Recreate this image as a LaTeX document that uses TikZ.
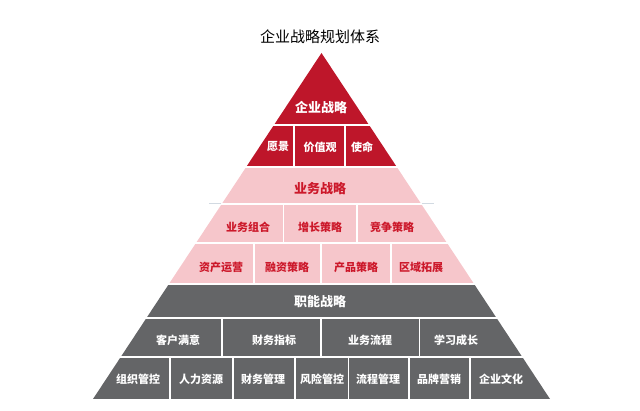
\documentclass[tikz,border=0pt]{standalone}
\usepackage{xcolor}
\usepackage{fontspec}
\setmainfont{Noto Sans CJK SC}
\usepackage{tikz}
\definecolor{stratred}{RGB}{190,22,42}
\definecolor{stratpink}{RGB}{246,198,203}
\definecolor{stratgray}{RGB}{100,101,103}
\definecolor{pinktext}{RGB}{204,24,42}
\definecolor{faintline}{RGB}{210,218,226}
\newcommand{\sepcolor}{white}

\begin{document}
\begin{tikzpicture}[x=1pt, y=-1pt,
	sep/.style={draw=\sepcolor, line width=1.6pt},
	headlabel/.style={font=\bfseries\fontsize{13}{13}\selectfont},
	celllabel/.style={font=\bfseries\fontsize{11}{11}\selectfont}]
	\useasboundingbox (0,0) rectangle (640,411);

	\node (title) at (320,37) {\fontsize{15}{15}\selectfont 企业战略规划体系};

	% the three colour bands
	\fill[stratred] (321.5,53) -- (396.8,167) -- (246.2,167) -- cycle;
	\fill[stratpink] (246.2,167) -- (396.8,167) -- (474.1,284) -- (168.9,284) -- cycle;
	\fill[stratgray] (168.9,284) -- (474.1,284) -- (550,399) -- (93,399) -- cycle;

	% faint guide line under the business strategy head
	\draw[faintline, line width=1pt] (209,204) -- (434,204);

	% row separators
	\foreach \y in {125,167,204,243,284,318,357}
		\draw[sep] (80,\y) -- (560,\y);
	\fill[faintline] (209,203.5) rectangle (221,204.5);
	\fill[faintline] (422,203.5) rectangle (434,204.5);

	% cell separators
	\foreach \x in {294,345}
		\draw[sep] (\x,125) -- (\x,167);
	\foreach \x in {283.3,356.7}
		\draw[sep] (\x,204) -- (\x,243);
	\foreach \x in {254,320.7,390.7}
		\draw[sep] (\x,243) -- (\x,284);
	\foreach \x in {221.7,320.7,419.3}
		\draw[sep] (\x,318) -- (\x,357);
	\foreach \x in {170,232.7,295,348.3,409,470}
		\draw[sep] (\x,357) -- (\x,399);

	% corporate strategy
	\node[headlabel, text=white] (corp) at (321,108) {企业战略};
	\node[celllabel, text=white] (vision) at (278,147) {愿景};
	\node[celllabel, text=white] (values) at (320,147) {价值观};
	\node[celllabel, text=white] (mission) at (362,147) {使命};

	% business strategy
	\node[headlabel, text=pinktext] (business) at (320,189) {业务战略};
	\node[celllabel, text=pinktext] (portfolio) at (248,227) {业务组合};
	\node[celllabel, text=pinktext] (growth) at (320,227) {增长策略};
	\node[celllabel, text=pinktext] (compete) at (392,227) {竞争策略};
	\node[celllabel, text=pinktext] (assets) at (221,267) {资产运营};
	\node[celllabel, text=pinktext] (finance) at (287,267) {融资策略};
	\node[celllabel, text=pinktext] (product) at (356,267) {产品策略};
	\node[celllabel, text=pinktext] (region) at (421,267) {区域拓展};

	% functional strategy
	\node[headlabel, text=white] (functional) at (320,302) {职能战略};
	\node[celllabel, text=white] (customer) at (178,340) {客户满意};
	\node[celllabel, text=white] (indicator) at (274,340) {财务指标};
	\node[celllabel, text=white] (process) at (370,340) {业务流程};
	\node[celllabel, text=white] (learning) at (456,340) {学习成长};
	\node[celllabel, text=white] (organise) at (138,379) {组织管控};
	\node[celllabel, text=white] (people) at (201,379) {人力资源};
	\node[celllabel, text=white] (accounts) at (263,379) {财务管理};
	\node[celllabel, text=white] (risk) at (322,379) {风险管控};
	\node[celllabel, text=white] (flow) at (378,379) {流程管理};
	\node[celllabel, text=white] (brand) at (439,379) {品牌营销};
	\node[celllabel, text=white] (culture) at (501,379) {企业文化};

\end{tikzpicture}
\end{document}
